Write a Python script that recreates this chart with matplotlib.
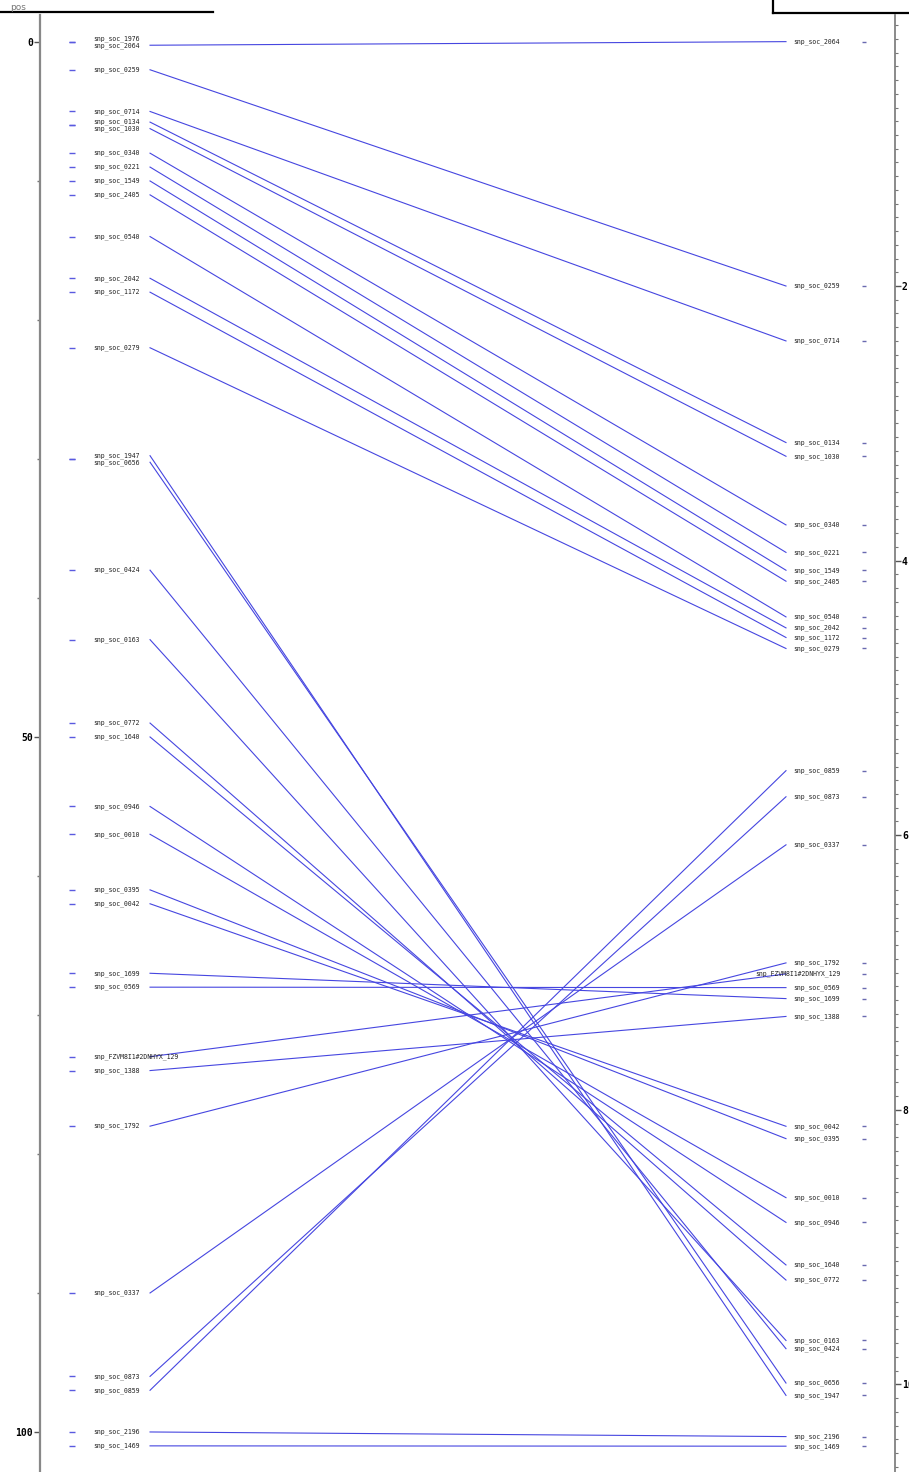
import matplotlib
matplotlib.use('Agg')
import matplotlib.pyplot as plt
from matplotlib.lines import Line2D
from matplotlib.ticker import MultipleLocator

plt.rcParams['font.family'] = ['DejaVu Sans Mono']

# left map (pos)
left_names = ['snp_soc_1976', 'snp_soc_2064', 'snp_soc_0259', 'snp_soc_0714', 'snp_soc_0134',
              'snp_soc_1030', 'snp_soc_0340', 'snp_soc_0221', 'snp_soc_1549', 'snp_soc_2405',
              'snp_soc_0540', 'snp_soc_2042', 'snp_soc_1172', 'snp_soc_0279', 'snp_soc_1947',
              'snp_soc_0656', 'snp_soc_0424', 'snp_soc_0163', 'snp_soc_0772', 'snp_soc_1640',
              'snp_soc_0946', 'snp_soc_0010', 'snp_soc_0395', 'snp_soc_0042', 'snp_soc_1699',
              'snp_soc_0569', 'snp_FZVM8I1#2DNHYX_129', 'snp_soc_1388', 'snp_soc_1792',
              'snp_soc_0337', 'snp_soc_0873', 'snp_soc_0859', 'snp_soc_2196', 'snp_soc_1469']
left_pos = [0, 0, 2, 5, 6, 6, 8, 9, 10, 11, 14, 17, 18, 22, 30, 30, 38, 43, 49, 50,
            55, 57, 61, 62, 67, 68, 73, 74, 78, 90, 96, 97, 100, 101]

# right map
right_names = ['snp_soc_2064', 'snp_soc_0259', 'snp_soc_0714', 'snp_soc_0134', 'snp_soc_1030',
               'snp_soc_0340', 'snp_soc_0221', 'snp_soc_1549', 'snp_soc_2405', 'snp_soc_0540',
               'snp_soc_2042', 'snp_soc_1172', 'snp_soc_0279', 'snp_soc_0859', 'snp_soc_0873',
               'snp_soc_0337', 'snp_soc_1792', 'snp_FZVM8I1#2DNHYX_129', 'snp_soc_0569',
               'snp_soc_1699', 'snp_soc_1388', 'snp_soc_0042', 'snp_soc_0395', 'snp_soc_0010',
               'snp_soc_0946', 'snp_soc_1640', 'snp_soc_0772', 'snp_soc_0163', 'snp_soc_0424',
               'snp_soc_0656', 'snp_soc_1947', 'snp_soc_2196', 'snp_soc_1469']
right_pos = [0.22, 2.0, 2.40, 3.14, 3.24, 3.74, 3.94, 4.07, 4.15, 4.41, 4.49, 4.56, 4.64,
             5.53, 5.72, 6.07, 6.93, 7.01, 7.11, 7.19, 7.32, 8.12, 8.21, 8.64, 8.82, 9.13,
             9.24, 9.68, 9.74, 9.99, 10.08, 10.38, 10.45]

line_col = '#4646e0'
text_col = '#222222'

fig = plt.figure(figsize=(9.09, 14.72), dpi=100)
ax = fig.add_axes([40 / 909, 0, 855 / 909, 1 - 15 / 1472])
ax2 = ax.twinx()

ax.set_xlim(0, 1)
ax.set_ylim(102.88, -1.94)
ax2.set_ylim(10.638, 0.026)

# x layout (fraction of the space between the two axes)
x_dash_l, x_lab_l, x_line0 = 0.0374, 0.062, 0.1287
x_line1, x_lab_r, x_dash_r = 0.8725, 0.9357, 0.9637

# spread labels that sit at the same position
gap = 0.47
lab_y = []
i = 0
while i < len(left_pos):
    j = i
    while j + 1 < len(left_pos) and left_pos[j + 1] == left_pos[i]:
        j += 1
    k = j - i + 1
    for m in range(k):
        lab_y.append(left_pos[i] + (m - (k - 1) / 2) * gap)
    i = j + 1

ax.plot([x_dash_l] * len(left_pos), left_pos, linestyle='none', marker='_',
        markersize=4, color='#5a5ae0', markeredgewidth=1)
for name, y in zip(left_names, lab_y):
    ax.text(x_lab_l, y, name, fontsize=4.7, color=text_col, ha='left', va='center')

ax2.plot([x_dash_r] * len(right_pos), right_pos, linestyle='none', marker='_',
         markersize=3.5, color='#6a6ab0', markeredgewidth=1)
for name, y in zip(right_names, right_pos):
    ax2.text(x_lab_r, y, name, fontsize=4.7, color=text_col, ha='right', va='center')


def to_left(r):
    d = ax2.transData.transform((0.5, r))
    return ax.transData.inverted().transform(d)[1]


lab_lookup = dict(zip(left_names, lab_y))
for name, r in zip(right_names, right_pos):
    if name in lab_lookup:
        ax.plot([x_line0, x_line1], [lab_lookup[name], to_left(r)], color=line_col, lw=0.8)

# axes styling
ax.set_xticks([])
ax.set_yticks([0, 50, 100])
ax.yaxis.set_minor_locator(MultipleLocator(10))
ax.tick_params(axis='y', which='major', length=4, width=1, color='#555555',
               labelsize=7, pad=1)
ax.tick_params(axis='y', which='minor', length=2, width=1, color='#777777')
for lbl in ax.get_yticklabels():
    lbl.set_fontweight('bold')

ax2.set_yticks([2, 4, 6, 8, 10])
ax2.yaxis.set_minor_locator(MultipleLocator(0.1))
ax2.tick_params(axis='y', which='major', length=4, width=1, color='#555555',
                labelsize=7, pad=1)
ax2.tick_params(axis='y', which='minor', length=2, width=0.8, color='#777777')
for lbl in ax2.get_yticklabels():
    lbl.set_fontweight('bold')

for s in ['top', 'bottom', 'right']:
    ax.spines[s].set_visible(False)
for s in ['top', 'bottom', 'left']:
    ax2.spines[s].set_visible(False)
ax.spines['left'].set_color('#888888')
ax.spines['left'].set_linewidth(1.6)
ax2.spines['right'].set_color('#777777')
ax2.spines['right'].set_linewidth(1.2)

fig.text(10 / 909, 1 - 8 / 1472, 'pos', fontsize=6.5, color='#777777',
         ha='left', va='center', family='DejaVu Sans')

# frame pieces at the top of the screenshot
fig.add_artist(Line2D([0, 213 / 909], [1 - 12 / 1472] * 2, color='black', lw=1.6))
fig.add_artist(Line2D([773 / 909] * 2, [1, 1 - 13 / 1472], color='black', lw=1.6))
fig.add_artist(Line2D([773 / 909, 1], [1 - 13 / 1472] * 2, color='black', lw=1.6))

fig.savefig('out.png', dpi=100)
